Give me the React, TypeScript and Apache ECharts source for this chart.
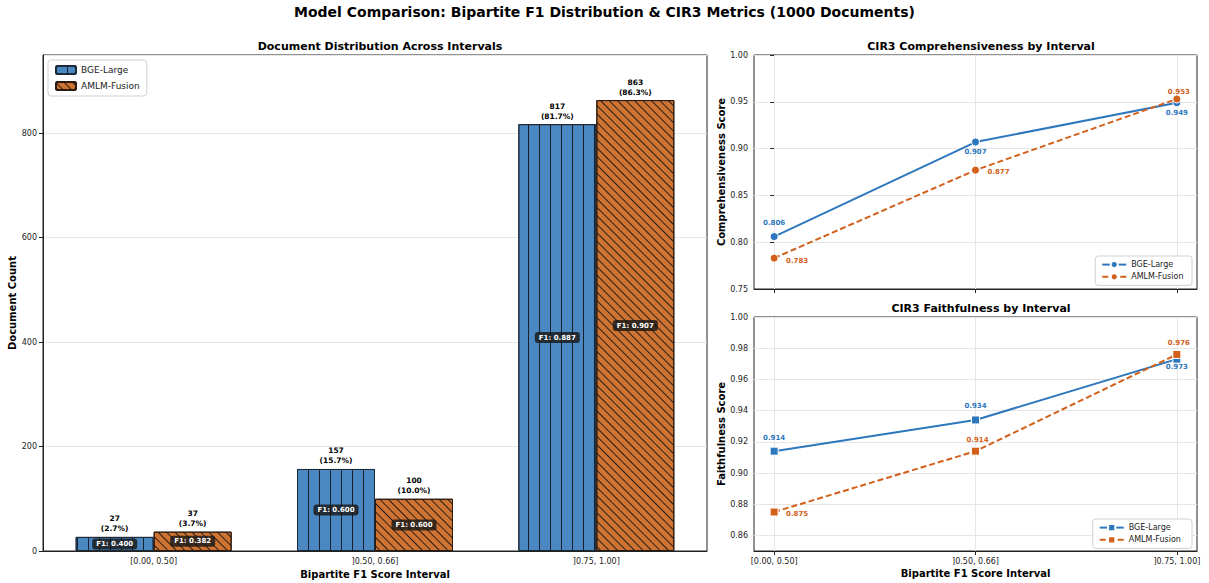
import React, { useEffect, useRef } from "react";
import * as echarts from "echarts";

// Interval categories and per-model values
const CATEGORIES = ["[0.00, 0.50]", "]0.50, 0.66]", "]0.75, 1.00]"];
const MODELS = ["BGE-Large", "AMLM-Fusion"];
const TOTAL_DOCS = 1000;

const BGE_COUNTS = [27, 157, 817];
const AMLM_COUNTS = [37, 100, 863];
const BGE_F1 = [0.4, 0.6, 0.887];
const AMLM_F1 = [0.382, 0.6, 0.907];

const BGE_COMP = [0.806, 0.907, 0.949];
const AMLM_COMP = [0.783, 0.877, 0.953];
const BGE_FAITH = [0.914, 0.934, 0.973];
const AMLM_FAITH = [0.875, 0.914, 0.976];

const COUNT_TICKS = [0, 200, 400, 600, 800];
const COMP_TICKS = [0.75, 0.8, 0.85, 0.9, 0.95, 1.0];
const FAITH_TICKS = [0.86, 0.88, 0.9, 0.92, 0.94, 0.96, 0.98, 1.0];

// Styling
const FONT = "DejaVu Sans";
const BAR_BLUE = "#4b88c2";
const BAR_ORANGE = "#cf7332";
const LINE_BLUE = "#2d77bc";
const LINE_ORANGE = "#d2601a";
const BAR_WIDTH = 78;

// Value-label offsets (px) relative to each point
const BGE_COMP_OFFSETS = [[0, -14], [0, 10], [0, 10]];
const AMLM_COMP_OFFSETS = [[23, 3], [23, 2], [2, -7]];
const BGE_FAITH_OFFSETS = [[0, -13], [0, -14], [0, 8]];
const AMLM_FAITH_OFFSETS = [[23, 2], [2, -11], [2, -11]];

const tickText = { color: "#222", fontSize: 8, fontFamily: FONT };
const titleText = { fontSize: 11, fontWeight: "bold" as const, color: "#000", fontFamily: FONT };
const axisNameText = { fontSize: 10, fontWeight: "bold" as const, color: "#000", fontFamily: FONT };
const gridLine = { lineStyle: { color: "#e6e6e6", width: 1 } };
const vGridLines = {
  silent: true,
  symbol: "none",
  label: { show: false },
  lineStyle: { color: "#e6e6e6", width: 1, type: "solid" },
  z: 1,
};

function lineSeries(
  name: string,
  values: number[],
  offsets: number[][],
  color: string,
  dashed: boolean,
  symbol: string,
  axisIndex: number,
  gridValues: number[] | null
) {
  const lines: any[] = CATEGORIES.map((_, i) => ({ xAxis: i }));
  if (gridValues) gridValues.forEach((g) => lines.push({ yAxis: g }));
  return {
    type: "line",
    name,
    xAxisIndex: axisIndex,
    yAxisIndex: axisIndex,
    data: values.map((v, i) => ({
      value: [i, v],
      label: {
        show: true,
        position: "inside",
        offset: offsets[i],
        formatter: v.toFixed(3),
        color,
        fontSize: 7,
        fontWeight: "bold",
        fontFamily: FONT,
      },
    })),
    symbol,
    symbolSize: 8,
    lineStyle: { color, width: 2, type: dashed ? [6, 3] : "solid" },
    itemStyle: { color, borderColor: "#fff", borderWidth: 1 },
    z: 5,
    markLine: { ...vGridLines, data: lines },
  };
}

function catXAxis(gridIndex: number, showLabels: boolean, name: string) {
  return {
    type: "value",
    gridIndex,
    min: -0.1,
    max: 2.1,
    axisLine: { show: true, onZero: false, lineStyle: { color: "#222" } },
    axisTick: { show: true, customValues: [0, 1, 2], lineStyle: { color: "#222" }, length: 4 },
    axisLabel: {
      show: showLabels,
      customValues: [0, 1, 2],
      formatter: (v: number) => CATEGORIES[Math.round(v)] ?? "",
      ...tickText,
      margin: 6,
    },
    splitLine: { show: false },
    name,
    nameLocation: "middle",
    nameGap: 17,
    nameTextStyle: axisNameText,
  };
}

const lineLegend = (names: string[], top: number) => ({
  data: names,
  right: 17,
  top,
  orient: "vertical",
  itemWidth: 24,
  itemHeight: 9,
  itemGap: 3,
  padding: [4, 6],
  backgroundColor: "#fff",
  borderColor: "#d0d0d0",
  borderWidth: 1,
  borderRadius: 3,
  textStyle: { fontSize: 8, color: "#222", fontFamily: FONT },
});

const gridBox = {
  show: true,
  borderColor: "#222",
  borderWidth: 1,
  backgroundColor: "transparent",
  containLabel: false,
  outerBoundsMode: "none",
};

export default function App() {
  const ref = useRef<HTMLDivElement>(null);

  useEffect(() => {
    if (!ref.current) return;
    const chart = echarts.init(ref.current, undefined, { renderer: "svg" });
    const countMax = Math.max(...BGE_COUNTS, ...AMLM_COUNTS) * 1.1;

    const badge = (f1: number) => ({
      show: true,
      position: "inside",
      formatter: `F1: ${f1.toFixed(3)}`,
      color: "#fff",
      fontSize: 7,
      fontWeight: "bold",
      fontFamily: FONT,
      backgroundColor: "rgba(25,25,25,0.82)",
      padding: [2, 4],
      borderRadius: 3,
    });

    const option: any = {
      animation: false,
      backgroundColor: "#fff",
      textStyle: { fontFamily: FONT },
      title: [
        {
          text: "Model Comparison: Bipartite F1 Distribution & CIR3 Metrics (1000 Documents)",
          left: "center",
          top: 0,
          textStyle: { fontSize: 14, fontWeight: "bold", color: "#000", fontFamily: FONT },
        },
        { text: "Document Distribution Across Intervals", left: 375, top: 36, textAlign: "center", textStyle: titleText },
        { text: "CIR3 Comprehensiveness by Interval", left: 976, top: 36, textAlign: "center", textStyle: titleText },
        { text: "CIR3 Faithfulness by Interval", left: 976, top: 298, textAlign: "center", textStyle: titleText },
      ],
      legend: [
        {
          data: MODELS,
          left: 48,
          top: 60,
          orient: "vertical",
          itemWidth: 20,
          itemHeight: 8,
          itemGap: 6,
          padding: [5, 7],
          backgroundColor: "#fff",
          borderColor: "#d0d0d0",
          borderWidth: 1,
          borderRadius: 3,
          textStyle: { fontSize: 9, color: "#222", fontFamily: FONT },
        },
        lineLegend(["BGE-Large ", "AMLM-Fusion "], 256),
        lineLegend(["BGE-Large  ", "AMLM-Fusion  "], 519),
      ],
      grid: [
        { left: 43, right: 502, top: 55, bottom: 32, ...gridBox },
        { left: 754, right: 12, top: 55, bottom: 294, ...gridBox },
        { left: 754, right: 12, top: 317, bottom: 32, ...gridBox },
      ],
      xAxis: [
        {
          type: "category",
          gridIndex: 0,
          data: CATEGORIES,
          axisLine: { lineStyle: { color: "#222" } },
          axisTick: { alignWithLabel: true, length: 4, lineStyle: { color: "#222" } },
          axisLabel: { ...tickText, margin: 6 },
          name: "Bipartite F1 Score Interval",
          nameLocation: "middle",
          nameGap: 17,
          nameTextStyle: axisNameText,
        },
        catXAxis(1, false, ""),
        catXAxis(2, true, "Bipartite F1 Score Interval"),
      ],
      yAxis: [
        {
          type: "value",
          gridIndex: 0,
          min: 0,
          max: countMax,
          interval: COUNT_TICKS[1] - COUNT_TICKS[0],
          axisLine: { show: true, lineStyle: { color: "#222" } },
          axisTick: { show: true, length: 4, lineStyle: { color: "#222" } },
          axisLabel: { ...tickText, margin: 6, showMaxLabel: false },
          splitLine: { show: true, ...gridLine },
          name: "Document Count",
          nameLocation: "middle",
          nameGap: 26,
          nameMoveOverlap: false,
          nameTextStyle: axisNameText,
        },
        {
          type: "value",
          gridIndex: 1,
          min: COMP_TICKS[0],
          max: COMP_TICKS[COMP_TICKS.length - 1],
          interval: 0.05,
          axisLine: { show: true, lineStyle: { color: "#222" } },
          axisTick: { show: true, length: 4, lineStyle: { color: "#222" } },
          axisLabel: { ...tickText, margin: 6, formatter: (v: number) => v.toFixed(2) },
          splitLine: { show: true, ...gridLine },
          name: "Comprehensiveness Score",
          nameLocation: "middle",
          nameGap: 26,
          nameTextStyle: axisNameText,
        },
        {
          type: "value",
          gridIndex: 2,
          min: 0.85,
          max: 1.0,
          axisLine: { show: true, lineStyle: { color: "#222" } },
          axisTick: { show: true, length: 4, customValues: FAITH_TICKS, lineStyle: { color: "#222" } },
          axisLabel: { ...tickText, margin: 6, customValues: FAITH_TICKS, formatter: (v: number) => v.toFixed(2) },
          splitLine: { show: false },
          name: "Faithfulness Score",
          nameLocation: "middle",
          nameGap: 26,
          nameTextStyle: axisNameText,
        },
      ],
      series: [
        {
          type: "bar",
          name: MODELS[0],
          xAxisIndex: 0,
          yAxisIndex: 0,
          barWidth: BAR_WIDTH,
          barGap: "0%",
          data: BGE_COUNTS.map((v, i) => ({ value: v, label: badge(BGE_F1[i]) })),
          itemStyle: {
            color: BAR_BLUE,
            borderColor: "#1c2a3a",
            borderWidth: 1,
            decal: {
              symbol: "rect",
              symbolSize: 1,
              dashArrayX: [1, 9.3],
              dashArrayY: [4, 0],
              color: "rgba(15,15,15,0.85)",
            },
          },
        },
        {
          type: "bar",
          name: MODELS[1],
          xAxisIndex: 0,
          yAxisIndex: 0,
          barWidth: BAR_WIDTH,
          barGap: "0%",
          data: AMLM_COUNTS.map((v, i) => ({ value: v, label: badge(AMLM_F1[i]) })),
          itemStyle: {
            color: BAR_ORANGE,
            borderColor: "#2a1a10",
            borderWidth: 1,
            decal: {
              symbol: "rect",
              symbolSize: 1,
              dashArrayX: [1, 0],
              dashArrayY: [1, 5],
              rotation: Math.PI / 4,
              color: "rgba(15,15,15,0.85)",
            },
          },
        },
        {
          // count and share labels above each bar
          type: "custom",
          xAxisIndex: 0,
          yAxisIndex: 0,
          silent: true,
          z: 10,
          data: [
            ...BGE_COUNTS.map((v, i) => [i, v, 0]),
            ...AMLM_COUNTS.map((v, i) => [i, v, 1]),
          ],
          renderItem: (_params: any, api: any) => {
            const cat = api.value(0);
            const val = api.value(1);
            const which = api.value(2);
            const pt = api.coord([cat, val]);
            const dx = (which === 0 ? -1 : 1) * (BAR_WIDTH / 2);
            return {
              type: "text",
              x: pt[0] + dx,
              y: pt[1] - 3,
              style: {
                text: `${val}\n(${((val / TOTAL_DOCS) * 100).toFixed(1)}%)`,
                align: "center",
                verticalAlign: "bottom",
                fill: "#000",
                font: `bold 7.5px "${FONT}"`,
                lineHeight: 10,
              },
            };
          },
        },
        lineSeries("BGE-Large ", BGE_COMP, BGE_COMP_OFFSETS, LINE_BLUE, false, "circle", 1, null),
        { ...lineSeries("AMLM-Fusion ", AMLM_COMP, AMLM_COMP_OFFSETS, LINE_ORANGE, true, "circle", 1, null), markLine: undefined },
        lineSeries("BGE-Large  ", BGE_FAITH, BGE_FAITH_OFFSETS, LINE_BLUE, false, "rect", 2, FAITH_TICKS),
        { ...lineSeries("AMLM-Fusion  ", AMLM_FAITH, AMLM_FAITH_OFFSETS, LINE_ORANGE, true, "rect", 2, null), markLine: undefined },
      ],
    };

    chart.setOption(option);
    return () => chart.dispose();
  }, []);

  return <div ref={ref} style={{ width: 1209, height: 583, position: "absolute", left: 0, top: 0 }} />;
}
